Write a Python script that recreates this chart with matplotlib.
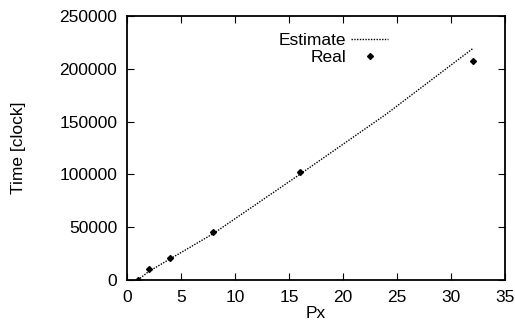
import matplotlib.pyplot as plt

plt.rcParams['font.family'] = ['Liberation Sans', 'DejaVu Sans']

px_est = [1, 2, 4, 8, 16, 24, 32]
time_est = [0, 8000, 20000, 44000, 100000, 157000, 219000]
px_real = [1, 2, 4, 8, 16, 32]
time_real = [0, 10000, 21000, 45000, 102000, 207000]

fig = plt.figure(figsize=(5.15, 3.24), dpi=100)
ax = fig.add_axes([0.2466, 0.1358, 0.734, 0.815])

ax.plot(px_est, time_est, color='black', linestyle=(0, (1, 1)), linewidth=1.0, label='Estimate')
ax.plot(px_real, time_real, color='black', linestyle='none', marker='D', markersize=3, label='Real')

ax.set_xlim(0, 35)
ax.set_ylim(0, 250000)
ax.set_xticks(range(0, 36, 5))
ax.set_yticks(range(0, 250001, 50000))
ax.tick_params(direction='in', top=True, right=True, length=5, labelsize=12.5, pad=7)
for s in ax.spines.values():
    s.set_linewidth(1.3)

ax.set_xlabel('Px', fontsize=12.5, labelpad=1)
ax.set_ylabel('Time [clock]', fontsize=12.5, labelpad=24)

leg = ax.legend(loc='upper left', bbox_to_anchor=(0.36, 0.995), frameon=False, markerfirst=False,
                fontsize=12.5, handlelength=2.1, handletextpad=0.3, labelspacing=0.1)
for t in leg.get_texts():
    t.set_ha('right')

fig.savefig('out.png', dpi=100)
